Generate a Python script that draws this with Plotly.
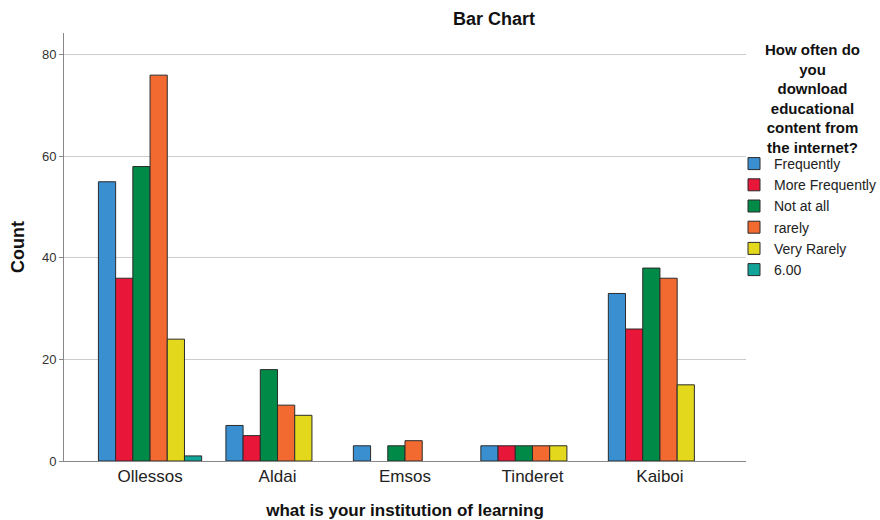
import plotly.graph_objects as go

categories = ["Ollessos", "Aldai", "Emsos", "Tinderet", "Kaiboi"]
series_names = ["Frequently", "More Frequently", "Not at all", "rarely", "Very Rarely", "6.00"]
frequently = [55, 7, 3, 3, 33]
more_frequently = [36, 5, 0, 3, 26]
not_at_all = [58, 18, 3, 3, 38]
rarely = [76, 11, 4, 3, 36]
very_rarely = [24, 9, 0, 3, 15]
six = [1, 0, 0, 0, 0]
series_values = [frequently, more_frequently, not_at_all, rarely, very_rarely, six]
colors = ["#3a8fd1", "#e8173a", "#008a47", "#f26a30", "#e3d81c", "#11a59a"]
y_ticks = [0, 20, 40, 60, 80]
legend_title = "How often do<br>you<br>download<br>educational<br>content from<br>the internet?"

W, H = 880, 520
L, R, T, B = 64, 134, 33, 59
PW, PH = W - L - R, H - T - B

fig = go.Figure()
for name, vals, col in zip(series_names, series_values, colors):
    fig.add_trace(go.Bar(
        x=categories,
        y=[v if v else None for v in vals],
        name=name,
        marker=dict(color=col, line=dict(color="#2b2b2b", width=1)),
    ))

font_family = "Liberation Sans, Arial, sans-serif"
fig.update_layout(
    width=W, height=H,
    margin=dict(l=L, r=R, t=T, b=B, autoexpand=False),
    paper_bgcolor="white", plot_bgcolor="white",
    barmode="group", bargap=0.19, bargroupgap=0,
    font=dict(family=font_family, color="#222222"),
    showlegend=True,
    legend=dict(
        xref="container", yref="container",
        x=734 / W, xanchor="left", y=1 - 148 / H, yanchor="top",
        font=dict(size=14, color="#222222"),
        itemwidth=30, tracegroupgap=0,
        bgcolor="rgba(0,0,0,0)",
    ),
    xaxis=dict(
        range=[-0.675, 4.675], automargin=False,
        showline=True, linecolor="#888888", linewidth=1,
        ticks="", tickfont=dict(size=17, color="#222222"),
        title=dict(text="<b>what is your institution of learning</b>",
                   font=dict(size=17, color="#111111"), standoff=20),
    ),
    yaxis=dict(
        range=[0, 84.3], automargin=False,
        tickvals=y_ticks,
        showline=True, linecolor="#888888", linewidth=1,
        showgrid=True, gridcolor="#cccccc", gridwidth=1,
        zeroline=False,
        ticks="outside", ticklen=4, tickcolor="#888888",
        tickfont=dict(size=13, color="#333333"),
        title=dict(text="<b>Count</b>", font=dict(size=18, color="#111111"), standoff=12),
    ),
)
fig.add_annotation(text="<b>Bar Chart</b>", xref="paper", yref="paper",
                   x=(494 - L) / PW, y=1 + (T - 19) / PH, showarrow=False,
                   xanchor="center", yanchor="middle",
                   font=dict(size=18, color="#111111"))
fig.add_annotation(text="<b>" + legend_title + "</b>", xref="paper", yref="paper",
                   x=(813 - L) / PW, y=1 - (39 - T) / PH, showarrow=False,
                   xanchor="center", yanchor="top", align="center",
                   font=dict(size=15, color="#111111"))

fig.write_html("out.html", config={"displayModeBar": False},
               post_script="document.body.style.margin='0';document.body.style.padding='0';")
